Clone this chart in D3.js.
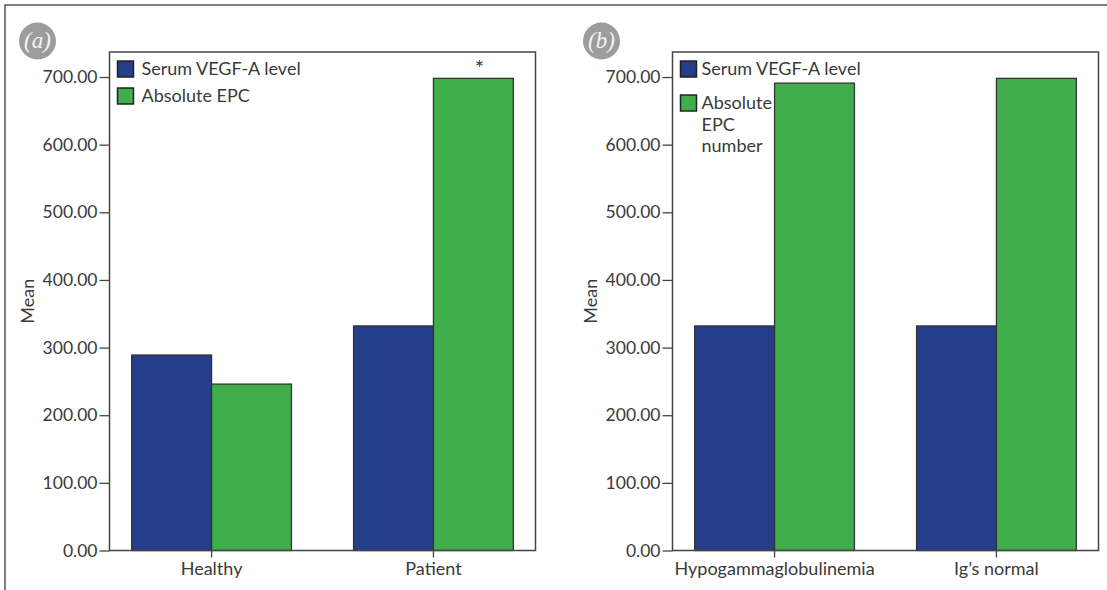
<!DOCTYPE html>
<html>
<head>
<meta charset="utf-8">
<script src="https://cdn.jsdelivr.net/npm/d3@7"></script>
<style>
  body { margin: 0; background: #fff; }
  svg { display: block; }
  text { font-family: Lato, "Open Sans", sans-serif; fill: #3a3a3a; }
</style>
</head>
<body>
<div id="chart"></div>
<script>
// values
var seriesNames = ["Serum VEGF-A level", "Absolute EPC"];
var groupsA = ["Healthy", "Patient"];
var vegfA = [289, 332];
var epcA = [246, 698];
var groupsB = ["Hypogammaglobulinemia", "Ig\u2019s normal"];
var vegfB = [332, 332];
var epcB = [691, 698];
var legendB = [["Serum VEGF-A level"], ["Absolute", "EPC", "number"]];
var legendA = [["Serum VEGF-A level"], ["Absolute EPC"]];
var yTicks = [0, 100, 200, 300, 400, 500, 600, 700];

var colors = ["#243e8c", "#40ae4a"];
var W = 1107, H = 590;
var plotTop = 52, plotBottom = 550.5;

var svg = d3.select("#chart").append("svg")
    .attr("width", W)
    .attr("height", H);

// outer frame (top and left only)
svg.append("path")
    .attr("d", "M5,590V5H1107")
    .attr("fill", "none")
    .attr("stroke", "#555")
    .attr("stroke-width", 1.5);

var y = d3.scaleLinear().domain([0, 737]).range([plotBottom, plotTop]);

function drawPanel(opt) {
    var g = svg.append("g");
    var x0 = d3.scaleBand()
        .domain(opt.groups)
        .range([opt.left, opt.right])
        .paddingInner(0.28)
        .paddingOuter(0.1);
    var x1 = d3.scaleBand()
        .domain([0, 1])
        .range([0, x0.bandwidth()]);

    var rows = opt.groups.map(function (d, i) {
        return { group: d, values: [opt.vegf[i], opt.epc[i]] };
    });

    // bars
    var grp = g.selectAll(".grp")
        .data(rows)
        .enter().append("g")
        .attr("transform", function (d) { return "translate(" + x0(d.group) + ",0)"; });
    grp.selectAll("rect")
        .data(function (d) { return d.values; })
        .enter().append("rect")
        .attr("x", function (d, i) { return x1(i); })
        .attr("width", x1.bandwidth())
        .attr("y", function (d) { return y(d); })
        .attr("height", function (d) { return y(0) - y(d); })
        .attr("fill", function (d, i) { return colors[i]; })
        .attr("stroke", "#333")
        .attr("stroke-width", 1.3);

    // frame
    g.append("rect")
        .attr("x", opt.left)
        .attr("y", plotTop)
        .attr("width", opt.right - opt.left)
        .attr("height", plotBottom - plotTop)
        .attr("fill", "none")
        .attr("stroke", "#444")
        .attr("stroke-width", 1.5);

    // y axis
    var ya = g.append("g")
        .attr("transform", "translate(" + opt.left + ",0)")
        .call(d3.axisLeft(y).tickValues(yTicks).tickFormat(d3.format(".2f")).tickSize(10).tickPadding(2));
    ya.select(".domain").remove();
    ya.selectAll("line").attr("stroke", "#444").attr("stroke-width", 1.3);
    ya.selectAll("text").attr("font-size", 17.5).attr("fill", "#3a3a3a").attr("font-family", "Lato");

    // x axis
    var xa = g.append("g")
        .attr("transform", "translate(0," + plotBottom + ")")
        .call(d3.axisBottom(x0).tickSize(7).tickPadding(5));
    xa.select(".domain").remove();
    xa.selectAll("line").attr("stroke", "#444").attr("stroke-width", 1.3);
    xa.selectAll("text").attr("font-size", 18).attr("fill", "#3a3a3a").attr("font-family", "Lato");

    // y title
    g.append("text")
        .attr("transform", "translate(" + (opt.left - 76) + "," + ((plotTop + plotBottom) / 2) + ") rotate(-90)")
        .attr("text-anchor", "middle")
        .attr("font-size", 18)
        .text("Mean");

    // legend
    var lg = g.append("g");
    var ly = [61, opt.legendGap];
    opt.legend.forEach(function (lines, i) {
        lg.append("rect")
            .attr("x", opt.left + opt.swX)
            .attr("y", ly[i])
            .attr("width", 16)
            .attr("height", 16)
            .attr("fill", colors[i])
            .attr("stroke", "#222")
            .attr("stroke-width", 1.5);
        lines.forEach(function (t, j) {
            lg.append("text")
                .attr("x", opt.left + opt.swX + opt.txtX)
                .attr("y", ly[i] + 14 + j * 21.5)
                .attr("font-size", 18)
                .text(t);
        });
    });

    // panel badge
    svg.append("circle")
        .attr("cx", opt.badgeX)
        .attr("cy", 41)
        .attr("r", 18.5)
        .attr("fill", "#9c9c9c");
    svg.append("text")
        .attr("x", opt.badgeX)
        .attr("y", 48)
        .attr("text-anchor", "middle")
        .style("font-family", "'Liberation Serif', 'DejaVu Serif', serif")
        .style("font-style", "italic")
        .attr("font-size", 23)
        .style("fill", "#f4f4f4")
        .text(opt.badge);

    return { x0: x0, x1: x1 };
}

var pa = drawPanel({
    left: 109.5, right: 535.5, groups: groupsA, vegf: vegfA, epc: epcA,
    legend: legendA, legendGap: 88, swX: 8, txtX: 24, badge: "(a)", badgeX: 37.5
});
drawPanel({
    left: 672.5, right: 1098.5, groups: groupsB, vegf: vegfB, epc: epcB,
    legend: legendB, legendGap: 95, swX: 8, txtX: 21, badge: "(b)", badgeX: 601.5
});

// significance mark over patient EPC bar
svg.append("text")
    .attr("x", pa.x0("Patient") + pa.x1(1) + pa.x1.bandwidth() / 2 + 6)
    .attr("y", y(epcA[1]) - 2)
    .attr("text-anchor", "middle")
    .attr("font-size", 22)
    .text("*");
</script>
</body>
</html>
